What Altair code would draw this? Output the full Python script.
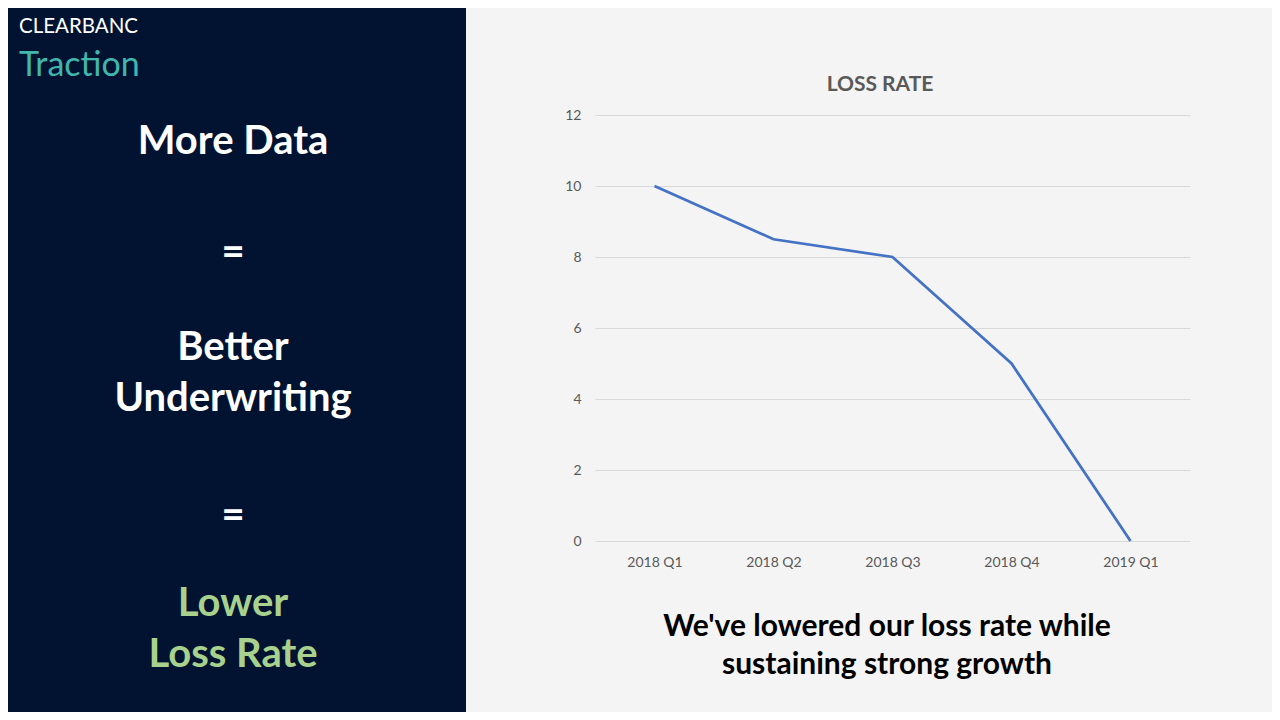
import altair as alt
import pandas as pd

# ---- data ----
quarters = ["2018 Q1", "2018 Q2", "2018 Q3", "2018 Q4", "2019 Q1"]
loss_rate = [10, 8.5, 8, 5, 0]
y_ticks = [0, 2, 4, 6, 8, 10, 12]

chart_title = "LOSS RATE"
caption_lines = ["We've lowered our loss rate while", "sustaining strong growth"]

FONT = "Lato"
NAVY = "#011331"
BG = "#f4f4f4"

# page -> plot coordinates (plot origin at page (595,115))
OX, OY = 595, 115


def txt(text, px, py, size, color, weight="normal", align="center"):
    return alt.Chart(pd.DataFrame({"t": [text]})).mark_text(
        font=FONT, fontSize=size, color=color, fontWeight=weight,
        align=align, baseline="middle"
    ).encode(text="t:N", x=alt.value(px - OX), y=alt.value(py - OY))


panel = alt.Chart(pd.DataFrame({"k": [0]})).mark_rect(color=NAVY).encode(
    x=alt.value(8 - OX), x2=alt.value(466 - OX),
    y=alt.value(8 - OY), y2=alt.value(712 - OY)
)

texts = [
    txt("CLEARBANC", 19, 27, 20.5, "#ffffff", align="left"),
    txt("Traction", 19, 66, 34, "#41b6ad", align="left"),
    txt("More Data", 233, 142, 40, "#ffffff", "bold"),
    txt("=", 233, 253, 40, "#ffffff", "bold"),
    txt("Better", 233, 348, 40, "#ffffff", "bold"),
    txt("Underwriting", 233, 399, 40, "#ffffff", "bold"),
    txt("=", 233, 516, 40, "#ffffff", "bold"),
    txt("Lower", 233, 604, 40, "#a9d18e", "bold"),
    txt("Loss Rate", 233, 655, 40, "#a9d18e", "bold"),
    txt(chart_title, 880, 85, 21, "#595959", "bold"),
    txt(caption_lines[0], 887, 627, 30, "#000000", "bold"),
    txt(caption_lines[1], 887, 665, 30, "#000000", "bold"),
]

df = pd.DataFrame({"quarter": quarters, "rate": loss_rate})

line = alt.Chart(df).mark_line(color="#4472c4", strokeWidth=2.75).encode(
    x=alt.X("quarter:O", sort=quarters, title=None,
            scale=alt.Scale(padding=0.5),
            axis=alt.Axis(labelAngle=0, domain=False, ticks=False,
                          labelPadding=14, labelFont=FONT, labelFontSize=14,
                          labelColor="#595959")),
    y=alt.Y("rate:Q", title=None,
            scale=alt.Scale(domain=[0, 12], nice=False),
            axis=alt.Axis(values=y_ticks, domain=False, ticks=False,
                          labelPadding=14, labelFont=FONT, labelFontSize=14,
                          labelColor="#595959", gridColor="#d9d9d9",
                          gridWidth=1))
)

chart = alt.layer(panel, *texts, line).properties(
    width=595, height=426,
    padding={"left": 587, "top": 107, "right": 82, "bottom": 171},
    autosize=alt.AutoSizeParams(type="none"),
).configure(background=BG).configure_view(strokeWidth=0)

chart.save("out.html", embed_options={"renderer": "svg", "actions": False})
